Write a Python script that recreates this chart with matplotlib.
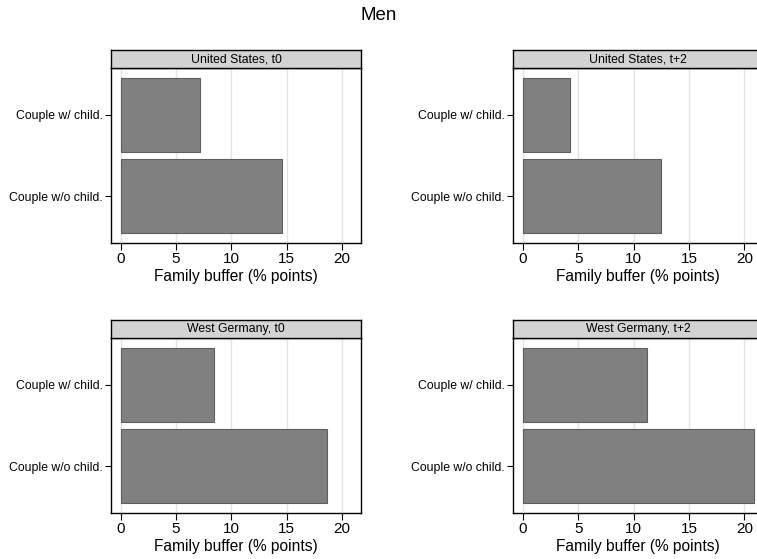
import numpy as np
import matplotlib.pyplot as plt

plt.rcParams['font.family'] = ['Liberation Sans', 'DejaVu Sans']

# data
categories = ['Couple w/o child.', 'Couple w/ child.']
panel_titles = ['United States, t0', 'United States, t+2',
                'West Germany, t0', 'West Germany, t+2']
values = {
    'United States, t0': [14.6, 7.15],
    'United States, t+2': [12.45, 4.27],
    'West Germany, t0': [18.6, 8.4],
    'West Germany, t+2': [20.85, 11.2],
}
xticks = [0, 5, 10, 15, 20]

W, H = 757, 559
fig = plt.figure(figsize=(W / 100, H / 100), dpi=100)

# panel boxes in pixels: left, top of plot area, bottom of plot area
lefts = [111, 513.3]
tops = [68.3, 338.3]
bottoms = [242.7, 512.7]
pw = 250
head_h = 18

ypos = np.arange(len(categories))
for i, title in enumerate(panel_titles):
    r, c = divmod(i, 2)
    l, t, b = lefts[c], tops[r], bottoms[r]
    ax = fig.add_axes([l / W, 1 - b / H, pw / W, (b - t) / H])
    ax.barh(ypos, values[title], height=0.905, color='#808080',
            edgecolor='#5e5e5e', linewidth=0.8, zorder=3)
    ax.set_xlim(-0.87, 21.7)
    ax.set_ylim(-0.565, 1.567)
    ax.set_xticks(xticks)
    ax.set_yticks(ypos)
    ax.set_yticklabels(categories, fontsize=8.8)
    ax.tick_params(axis='x', labelsize=11, length=5, width=0.8, pad=2)
    ax.tick_params(axis='y', length=4, width=0.8, pad=2)
    ax.grid(axis='x', color='#e3e3e3', linewidth=1, zorder=0)
    for s in ax.spines.values():
        s.set_linewidth(1)
    ax.set_xlabel('Family buffer (% points)', fontsize=11.2, labelpad=1.5)

    hx = fig.add_axes([l / W, 1 - t / H, pw / W, head_h / H])
    hx.set_facecolor('#d3d3d3')
    hx.set_xticks([])
    hx.set_yticks([])
    for s in hx.spines.values():
        s.set_linewidth(1)
    hx.text(0.5, 0.5, title, ha='center', va='center', fontsize=8.8,
            transform=hx.transAxes)

fig.text(0.5, 1 - 16 / H, 'Men', ha='center', va='center', fontsize=13.5)

plt.savefig('out.png', dpi=100)
